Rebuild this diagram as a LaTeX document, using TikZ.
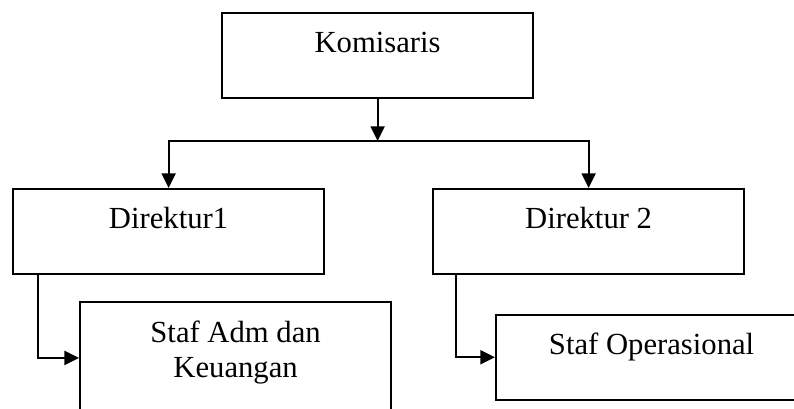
\documentclass[tikz,border=0pt]{standalone}
\usepackage{fontspec}
\setmainfont{Liberation Serif}
\usetikzlibrary{arrows.meta}

\begin{document}
\begin{tikzpicture}[x=0.75pt, y=-0.75pt, >={Triangle[length=11pt, width=10.5pt]},
    kotak/.style={draw, line width=1.4pt, anchor=north west, inner ysep=0pt,
        font=\fontsize{23}{26.25}\selectfont, align=center,
        text height=29.5pt, text depth=34pt, minimum width=233.5pt},
    panah/.style={line width=1.6pt}]
    \clip (0,0) rectangle (794,408);

    \node[kotak] (kom) at (221,12) {Komisaris};
    \node[kotak] (dir1) at (12,188) {Direktur1};
    \node[kotak] (dir2) at (432,188) {Direktur 2};
    \node[kotak, text height=57pt, text depth=33pt] (adm) at (79,301) {Staf Adm dan\\Keuangan};
    \node[kotak] (ops) at (495,314) {Staf Operasional};

    \coordinate (j) at (kom.south |- 0,141);

    \draw[panah, ->] (kom.south) -- (j);
    \draw[panah, ->] (j) -| (dir1.north);
    \draw[panah, ->] (j) -| (dir2.north);

    \draw[panah, ->] ([xshift=19.5pt]dir1.south west) |- ([yshift=3pt]adm.west);
    \draw[panah, ->] ([xshift=18pt]dir2.south west) |- (ops.west);
\end{tikzpicture}
\end{document}
